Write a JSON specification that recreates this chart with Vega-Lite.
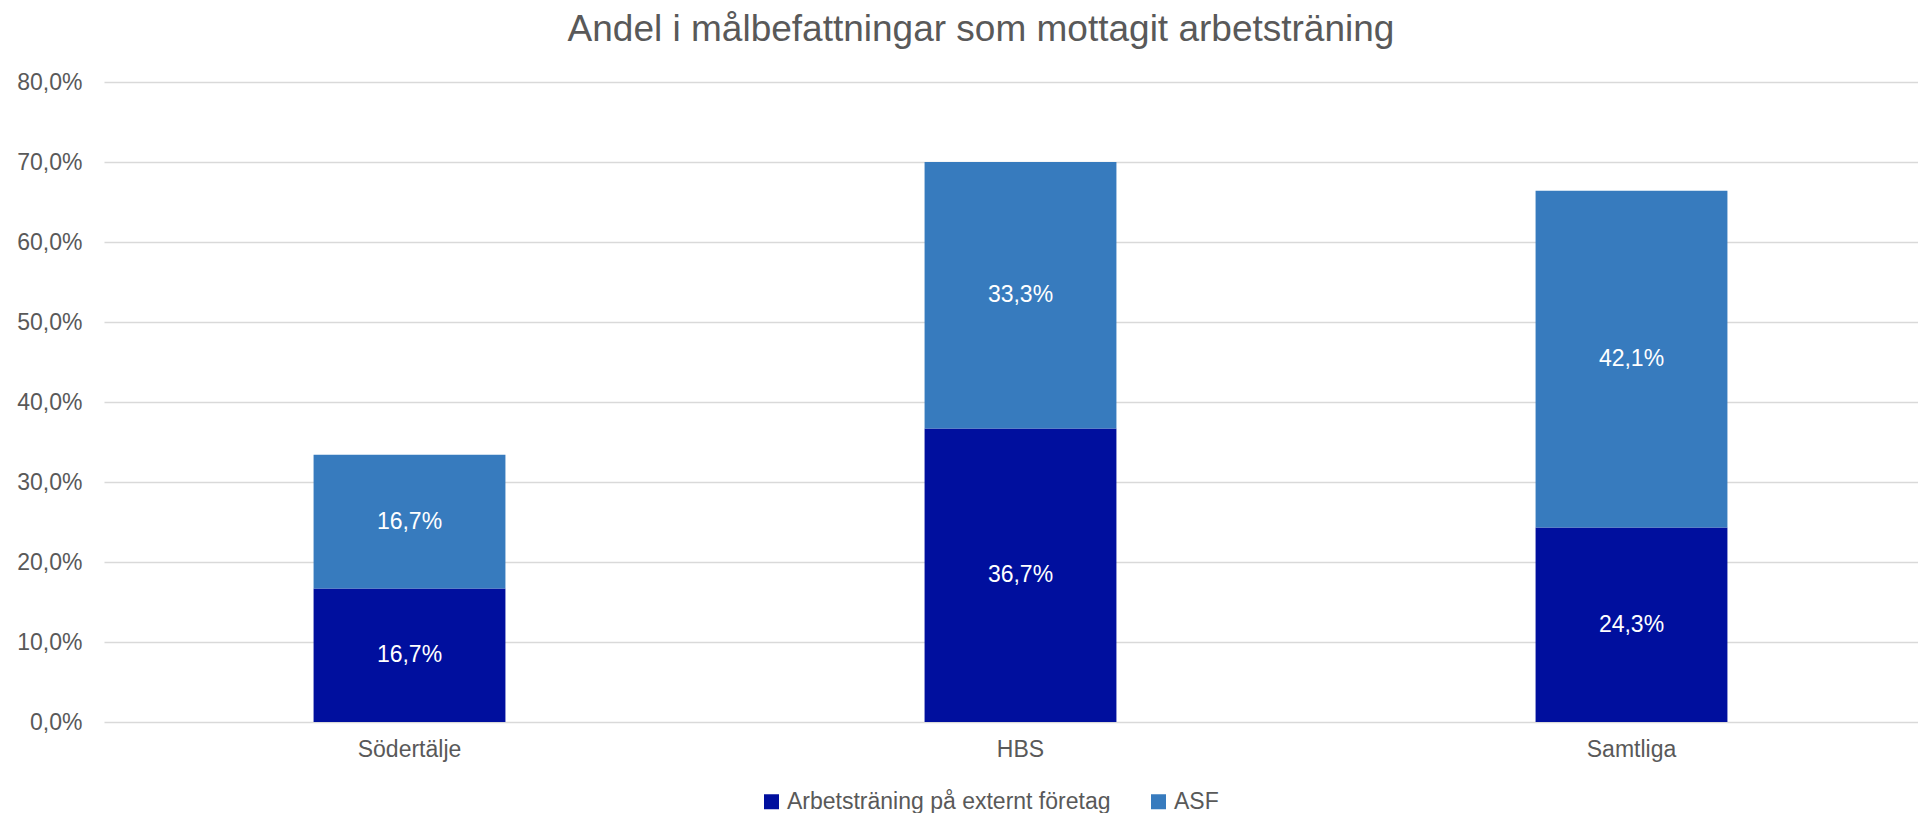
{
  "$schema": "https://vega.github.io/schema/vega-lite/v6.json",
  "autosize": {"type": "none"},
  "padding": {"left": 104, "top": 82, "right": 0, "bottom": 91},
  "width": 1814,
  "height": 640,
  "background": "white",
  "title": {
    "text": "Andel i målbefattningar som mottagit arbetsträning",
    "font": "Liberation Sans",
    "fontSize": 37,
    "fontWeight": "normal",
    "color": "#595959",
    "anchor": "middle",
    "frame": "group",
    "dx": -30,
    "offset": 22
  },
  "data": {
    "values": [
      {"region": "Södertälje", "series": "Arbetsträning på externt företag", "value": 0.167},
      {"region": "Södertälje", "series": "ASF", "value": 0.167},
      {"region": "HBS", "series": "Arbetsträning på externt företag", "value": 0.367},
      {"region": "HBS", "series": "ASF", "value": 0.333},
      {"region": "Samtliga", "series": "Arbetsträning på externt företag", "value": 0.243},
      {"region": "Samtliga", "series": "ASF", "value": 0.421}
    ]
  },
  "transform": [
    {"stack": "value", "groupby": ["region"], "sort": [{"field": "series", "order": "descending"}], "as": ["y0", "y1"]},
    {"calculate": "(datum.y0 + datum.y1) / 2", "as": "ymid"}
  ],
  "encoding": {
    "x": {
      "field": "region",
      "type": "nominal",
      "sort": ["Södertälje", "HBS", "Samtliga"],
      "scale": {"range": [0, 1833], "paddingInner": 0.686, "paddingOuter": 0.343},
      "axis": {
        "title": null,
        "labelAngle": 0,
        "domain": false,
        "ticks": false,
        "tickSize": 0,
        "labelPadding": 16,
        "labelFont": "Liberation Sans",
        "labelFontSize": 23,
        "labelColor": "#595959"
      }
    }
  },
  "layer": [
    {
      "mark": {"type": "bar"},
      "encoding": {
        "y": {
          "field": "y1",
          "type": "quantitative",
          "scale": {"domain": [0, 0.8], "nice": false},
          "axis": {
            "title": null,
            "values": [0, 0.1, 0.2, 0.3, 0.4, 0.5, 0.6, 0.7, 0.8],
            "format": ".1%",
            "domain": false,
            "ticks": false,
            "tickSize": 0,
            "labelPadding": 22,
            "labelFont": "Liberation Sans",
            "labelFontSize": 23,
            "labelColor": "#595959",
            "grid": true,
            "gridColor": "#d9d9d9",
            "gridWidth": 1.5
          }
        },
        "y2": {"field": "y0"},
        "color": {
          "field": "series",
          "type": "nominal",
          "scale": {"domain": ["Arbetsträning på externt företag", "ASF"], "range": ["#000F9E", "#377BBE"]},
          "legend": {
            "title": null,
            "orient": "none",
            "legendX": 656,
            "legendY": 708,
            "direction": "horizontal",
            "symbolType": "square",
            "symbolSize": 225,
            "symbolStrokeWidth": 0,
            "labelFont": "Liberation Sans",
            "labelFontSize": 23,
            "labelColor": "#595959",
            "labelOffset": 4,
            "labelLimit": 1000,
            "columnPadding": 36
          }
        }
      }
    },
    {
      "mark": {"type": "text", "color": "white", "font": "Liberation Sans", "fontSize": 23, "align": "center", "baseline": "middle"},
      "encoding": {
        "y": {"field": "ymid", "type": "quantitative"},
        "text": {"field": "value", "type": "quantitative", "format": ".1%"}
      }
    }
  ],
  "config": {
    "view": {"stroke": null},
    "locale": {
      "number": {"decimal": ",", "thousands": " ", "grouping": [3], "currency": ["", " kr"], "percent": "%"}
    }
  }
}
